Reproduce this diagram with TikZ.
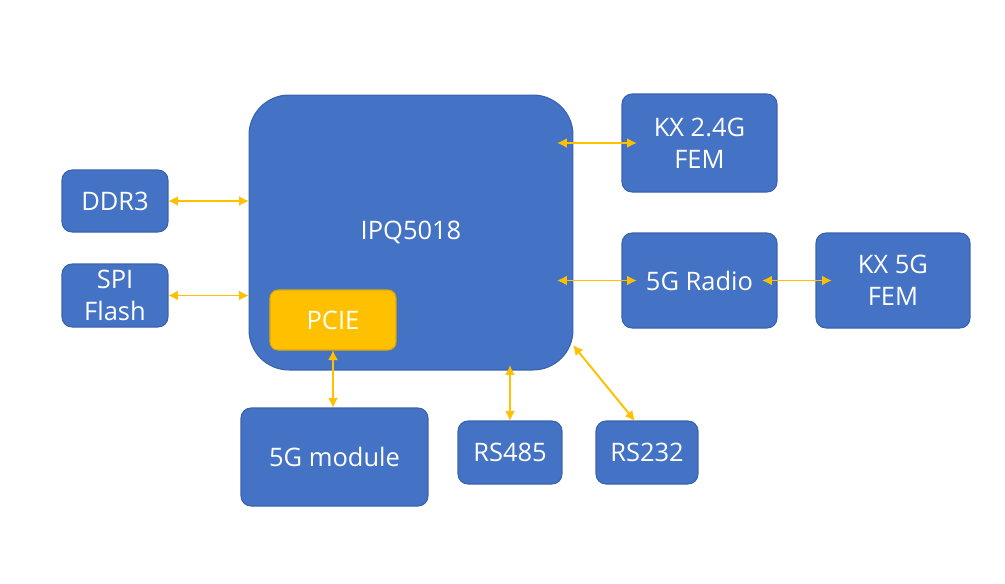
\documentclass[tikz,border=0pt]{standalone}
\usepackage{fontspec}
\setmainfont{Open Sans}
\usetikzlibrary{arrows.meta, calc}
\definecolor{boxblue}{HTML}{4472C4}
\definecolor{boxedge}{HTML}{3A62AC}
\definecolor{linkgold}{HTML}{FFC000}
\definecolor{pcieedge}{HTML}{E0A800}

\tikzset{
  block/.style={rectangle, rounded corners=0.2cm, fill=boxblue, draw=boxedge, line width=0.6pt,
                text=white, align=center, inner sep=0pt, outer sep=0pt,
                font=\fontsize{14.5}{18}\selectfont},
  link/.style={{Latex[length=0.2cm,width=0.2cm]}-{Latex[length=0.2cm,width=0.2cm]}, linkgold, line width=1.1pt}
}

\begin{document}
\begin{tikzpicture}[x=0.02cm, y=-0.02cm]
  \useasboundingbox (0, 0) rectangle (1005, 583);

  % SoC and its PCIe block
  \node[block, rounded corners=0.8cm, minimum width=6.48cm, minimum height=5.5cm] (ipq) at (411, 232.5) {};
  \node[font=\fontsize{14.5}{18}\selectfont, text=white] (ipqlabel) at (411, 232) {IPQ5018};
  \node[block, fill=linkgold, draw=pcieedge, rounded corners=0.16cm, minimum width=2.52cm, minimum height=1.2cm] (pcie) at (333, 320) {PCIE};

  % Left side: memories
  \node[block, minimum width=2.12cm, minimum height=1.24cm] (ddr) at (115, 201) {DDR3};
  \node[block, minimum width=2.12cm, minimum height=1.26cm] (spi) at (115, 295.5) {SPI\\Flash};

  % Right side: radio chain
  \node[block, minimum width=3.1cm, minimum height=1.96cm] (kx24) at (699.5, 143) {KX 2.4G\\FEM};
  \node[block, minimum width=3.1cm, minimum height=1.9cm] (radio) at (699.5, 280.5) {5G Radio};
  \node[block, minimum width=3.08cm, minimum height=1.9cm] (kx5) at (893, 280.5) {KX 5G\\FEM};

  % Bottom: module and serial ports
  \node[block, minimum width=3.74cm, minimum height=1.96cm] (mod5g) at (334.5, 457) {5G module};
  \node[block, minimum width=2.08cm, minimum height=1.26cm] (rs485) at (510, 452.5) {RS485};
  \node[block, minimum width=2.04cm, minimum height=1.26cm] (rs232) at (647, 452.5) {RS232};

  % Links
  \draw[link] (ddr.east) -- (ddr.east -| ipq.west);
  \draw[link] (spi.east) -- (spi.east -| ipq.west);
  \draw[link, shorten <=-0.32cm, shorten >=-0.3cm] (ipq.east |- kx24.west) -- (kx24.west);
  \draw[link, shorten <=-0.32cm, shorten >=-0.3cm] (ipq.east |- radio.west) -- (radio.west);
  \draw[link, shorten <=-0.3cm, shorten >=-0.32cm] (radio.east) -- (kx5.west);
  \draw[link] (pcie.south) -- (pcie.south |- mod5g.north);
  \draw[link, shorten >=-0.1cm] (rs485.north) -- (rs485.north |- ipq.south);
  \coordinate (ipqcorner) at ($(ipq.south east)+(0,-25)$);
  \draw[link] (ipqcorner) -- ($(rs232.north)+(-12,0)$);
\end{tikzpicture}
\end{document}
